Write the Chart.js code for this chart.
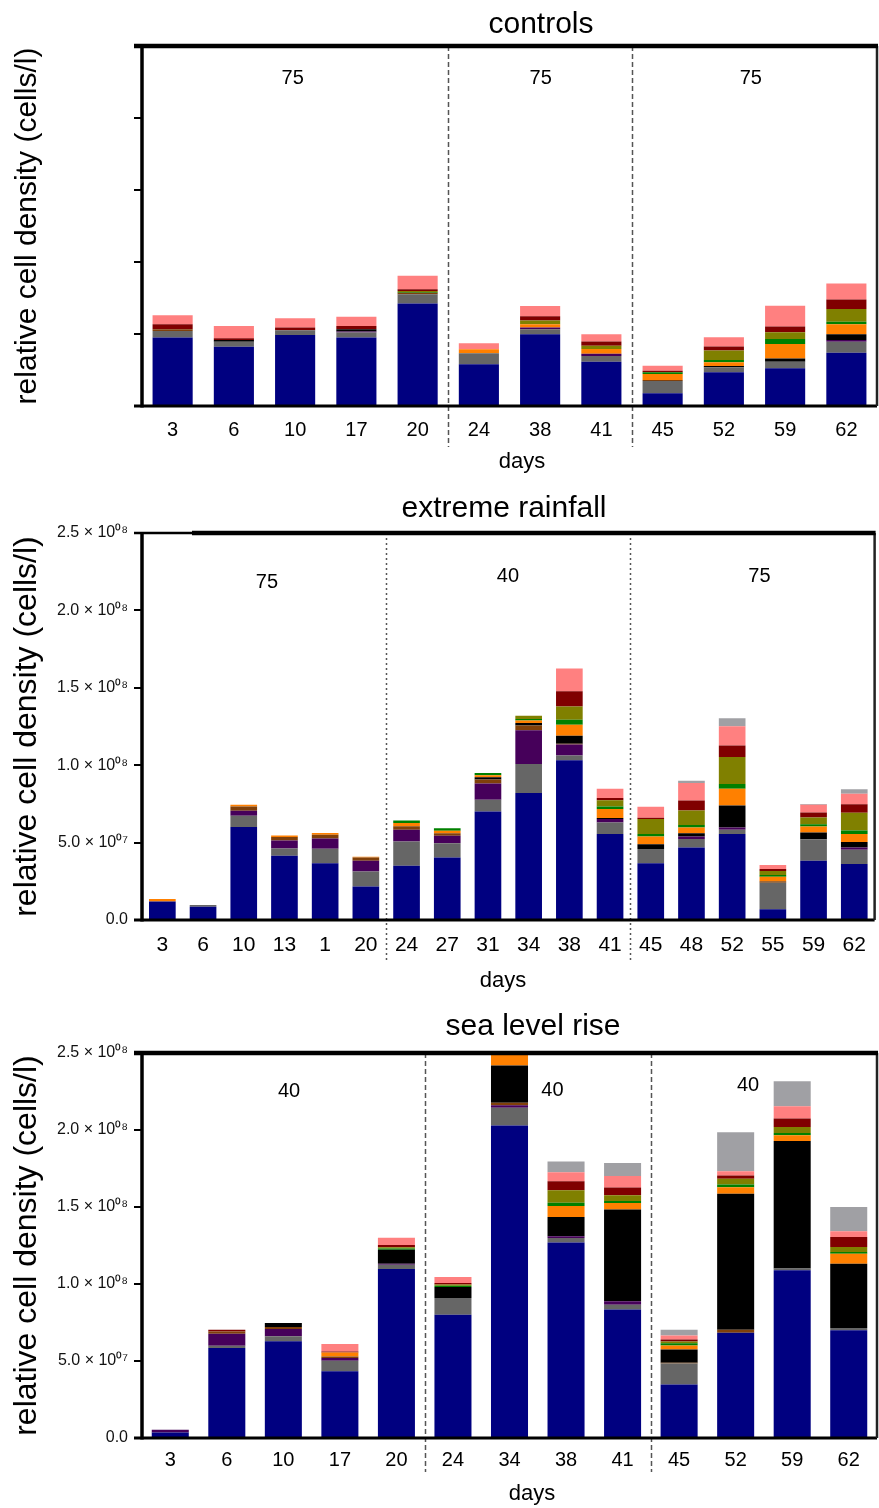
<!DOCTYPE html>
<html>
<head>
<meta charset="utf-8">
<script src="https://cdn.jsdelivr.net/npm/chart.js@4"></script>
<style>
    body { margin: 0; background: #fff; }
    canvas { display: block; }
</style>
</head>
<body>
<canvas id="graficoControles" width="879" height="480"></canvas>
<canvas id="graficoLluvia" width="879" height="520"></canvas>
<canvas id="graficoMar" width="879" height="508"></canvas>
<script>
// densities in units of 10^7 cells/l, stacked bottom -> top

// controls
const ctrlDays   = ['3', '6', '10', '17', '20', '24', '38', '41', '45', '52', '59', '62'];
const ctrlNavy   = [4.75, 4.12, 4.93, 4.75, 7.11, 2.90, 4.98, 3.08, 0.88, 2.34, 2.62, 3.70];
const ctrlGray   = [0.46, 0.35, 0.33, 0.35, 0.65, 0.76, 0.35, 0.40, 0.85, 0.35, 0.46, 0.76];
const ctrlPurple = [0, 0, 0, 0.07, 0, 0, 0.12, 0.14, 0, 0, 0, 0.12];
const ctrlBrown  = [0.12, 0, 0, 0, 0.10, 0, 0, 0, 0.07, 0, 0, 0];
const ctrlBlack  = [0, 0.12, 0, 0.16, 0, 0, 0, 0, 0, 0.09, 0.21, 0.40];
const ctrlOrange = [0, 0, 0, 0, 0, 0.28, 0.23, 0.33, 0.42, 0.26, 1.02, 0.69];
const ctrlGreen  = [0, 0, 0, 0, 0.05, 0, 0, 0, 0.12, 0.16, 0.35, 0.18];
const ctrlOlive  = [0, 0, 0, 0, 0.08, 0, 0.25, 0.23, 0, 0.65, 0.46, 0.88];
const ctrlRed    = [0.35, 0.12, 0.19, 0.23, 0.12, 0, 0.30, 0.30, 0.10, 0.28, 0.40, 0.67];
const ctrlPink   = [0.63, 0.85, 0.65, 0.63, 0.93, 0.42, 0.72, 0.51, 0.35, 0.65, 1.44, 1.11];
const ctrlSilver = [0, 0, 0, 0, 0, 0, 0, 0, 0, 0, 0, 0];
const ctrlZones  = ['75', '75', '75'];

// extreme rainfall
const rainDays   = ['3', '6', '10', '13', '1', '20', '24', '27', '31', '34', '38', '41', '45', '48', '52', '55', '59', '62'];
const rainNavy   = [1.19, 0.86, 6.00, 4.15, 3.67, 2.16, 3.50, 4.03, 7.01, 8.20, 10.32, 5.55, 3.67, 4.68, 5.55, 0.69, 3.82, 3.61];
const rainGray   = [0, 0.11, 0.73, 0.47, 0.93, 0.97, 1.57, 0.93, 0.76, 1.88, 0.30, 0.75, 0.91, 0.56, 0.28, 1.72, 1.40, 0.93];
const rainPurple = [0, 0, 0.32, 0.52, 0.67, 0.69, 0.76, 0.49, 1.04, 2.18, 0.71, 0.22, 0, 0.15, 0.15, 0, 0, 0.15];
const rainBrown  = [0, 0, 0.28, 0.22, 0.24, 0.21, 0.22, 0.15, 0.26, 0.30, 0.06, 0, 0, 0, 0, 0.09, 0, 0];
const rainBlack  = [0, 0, 0, 0, 0, 0, 0, 0, 0.15, 0.17, 0.52, 0.07, 0.32, 0.22, 1.42, 0, 0.43, 0.35];
const rainOrange = [0.17, 0, 0.11, 0.10, 0.11, 0.05, 0.22, 0.17, 0.13, 0.15, 0.71, 0.58, 0.49, 0.36, 1.08, 0.30, 0.39, 0.52];
const rainGreen  = [0, 0, 0, 0, 0, 0, 0.15, 0.15, 0.15, 0.11, 0.32, 0.17, 0.17, 0.17, 0.30, 0.11, 0.15, 0.22];
const rainOlive  = [0, 0, 0, 0, 0, 0, 0, 0, 0, 0.21, 0.86, 0.39, 0.97, 0.93, 1.75, 0.26, 0.43, 1.15];
const rainRed    = [0, 0, 0, 0, 0, 0, 0, 0, 0, 0, 0.97, 0.15, 0.08, 0.65, 0.75, 0.13, 0.32, 0.54];
const rainPink   = [0, 0, 0, 0, 0, 0, 0, 0, 0, 0, 1.47, 0.60, 0.71, 1.13, 1.23, 0.26, 0.50, 0.69];
const rainSilver = [0, 0, 0, 0, 0, 0, 0, 0, 0, 0, 0, 0, 0, 0.15, 0.52, 0, 0.06, 0.28];
const rainZones  = ['75', '40', '75'];

// sea level rise
const seaDays    = ['3', '6', '10', '17', '20', '24', '34', '38', '41', '45', '52', '59', '62'];
const seaNavy    = [0.36, 5.84, 6.28, 4.33, 10.97, 8.01, 20.30, 12.69, 8.34, 3.47, 6.84, 10.89, 6.99];
const seaGray    = [0, 0.15, 0.32, 0.69, 0.28, 1.08, 1.15, 0.30, 0.32, 1.36, 0, 0.11, 0.15];
const seaPurple  = [0.18, 0.78, 0.48, 0.17, 0.06, 0, 0.15, 0.11, 0.22, 0, 0, 0, 0];
const seaBrown   = [0, 0.15, 0.13, 0.10, 0, 0, 0.17, 0, 0, 0.06, 0.19, 0, 0];
const seaBlack   = [0, 0, 0.26, 0, 0.91, 0.71, 2.42, 1.25, 5.95, 0.86, 8.83, 8.29, 4.18];
const seaOrange  = [0, 0, 0, 0.26, 0, 0, 0.90, 0.71, 0.43, 0.26, 0.43, 0.37, 0.65];
const seaGreen   = [0, 0, 0, 0, 0.08, 0.08, 0, 0.22, 0.13, 0.15, 0.17, 0.15, 0.11];
const seaOlive   = [0, 0, 0, 0, 0.09, 0.09, 0, 0.80, 0.37, 0.11, 0.37, 0.39, 0.32];
const seaRed     = [0, 0.11, 0, 0.07, 0.15, 0.09, 0, 0.60, 0.50, 0.13, 0.21, 0.54, 0.65];
const seaPink    = [0, 0, 0, 0.48, 0.47, 0.39, 0, 0.58, 0.75, 0.26, 0.28, 0.80, 0.37];
const seaSilver  = [0, 0, 0, 0, 0, 0, 0, 0.69, 0.84, 0.37, 2.53, 1.62, 1.58];
const seaZones   = ['40', '40', '40'];

const FONT = '"Liberation Sans", Arial, Helvetica, sans-serif';
const colores = ['#000080', '#666666', '#46005A', '#80400A', '#000000', '#FF8000',
                 '#008000', '#808000', '#800000', '#FF8080', '#A0A0A4'];

function etiquetaY(v) {
    if (v === 0) return '0.0';
    if (v < 10) return v.toFixed(1) + ' \u00d7 10\u2070\u2077';
    return (v / 10).toFixed(1) + ' \u00d7 10\u2070\u2078';
}

// dashed separators, frame, zone numbers, titles
const marco = {
    id: 'marco',
    afterDraw(chart, args, o) {
        const { ctx, chartArea: a, scales: { x, y } } = chart;
        ctx.save();
        ctx.strokeStyle = '#555';
        ctx.lineWidth = 1.5;
        ctx.setLineDash(o.dash);
        o.breaks.forEach(b => {
            const px = Math.round(x.getPixelForValue(b)) + 0.5;
            ctx.beginPath();
            ctx.moveTo(px, a.top);
            ctx.lineTo(px, o.dashEnd);
            ctx.stroke();
        });
        ctx.setLineDash([]);

        ctx.strokeStyle = '#000';
        ctx.lineWidth = 3.5;
        ctx.beginPath(); ctx.moveTo(a.left, a.top); ctx.lineTo(a.left, a.bottom + 1.5); ctx.stroke();
        ctx.lineWidth = 3;
        ctx.beginPath(); ctx.moveTo(a.left - 8, a.bottom); ctx.lineTo(a.right, a.bottom); ctx.stroke();
        ctx.lineWidth = 2.5;
        ctx.strokeStyle = '#222';
        ctx.beginPath(); ctx.moveTo(a.right, a.top); ctx.lineTo(a.right, a.bottom); ctx.stroke();
        ctx.strokeStyle = '#000';
        if (o.thinTop > 0) {
            ctx.lineWidth = 2.5;
            ctx.beginPath(); ctx.moveTo(a.left - 8, a.top); ctx.lineTo(a.left + o.thinTop, a.top); ctx.stroke();
        }
        ctx.lineWidth = 4.5;
        ctx.beginPath(); ctx.moveTo(a.left - 8 + Math.max(o.thinTop + 8, 0), a.top); ctx.lineTo(a.right + 1, a.top); ctx.stroke();

        ctx.fillStyle = '#000';
        ctx.textAlign = 'center';
        ctx.textBaseline = 'middle';
        ctx.font = '20px ' + FONT;
        o.zones.forEach((t, i) => {
            ctx.fillText(t, x.getPixelForValue(o.zoneAt[i][0]), y.getPixelForValue(o.zoneAt[i][1]));
        });

        ctx.textBaseline = 'alphabetic';
        ctx.font = '30px ' + FONT;
        ctx.fillText(o.title, o.titleAt[0], o.titleAt[1]);
        ctx.font = '22px ' + FONT;
        ctx.fillText('days', o.daysAt[0], o.daysAt[1]);
        ctx.restore();
    }
};

function crearGrafico(id, p) {
    const datasets = p.series.map((valores, i) => ({
        data: valores,
        backgroundColor: colores[i],
        borderWidth: 0,
        barPercentage: 0.655,
        categoryPercentage: 1,
        clip: 0
    }));
    new Chart(document.getElementById(id), {
        type: 'bar',
        data: { labels: p.days, datasets: datasets },
        options: {
            responsive: false,
            animation: false,
            layout: { padding: { left: 0, right: 2, top: p.top, bottom: 0 } },
            plugins: {
                legend: { display: false },
                tooltip: { enabled: false },
                marco: p.marco
            },
            scales: {
                x: {
                    stacked: true,
                    grid: { display: false, drawTicks: false },
                    border: { display: false },
                    ticks: {
                        color: '#000', padding: p.xPad, maxRotation: 0, autoSkip: false,
                        font: { family: FONT, size: p.xFont }
                    },
                    afterFit: s => { s.height = p.xHeight; }
                },
                y: {
                    stacked: true,
                    min: 0,
                    max: 25,
                    ticks: {
                        stepSize: 5, padding: 6, color: '#111',
                        font: { family: FONT, size: 16 },
                        callback: v => p.yLabels ? etiquetaY(v) : ''
                    },
                    grid: { drawOnChartArea: false, tickLength: 8, color: '#000', lineWidth: 2 },
                    border: { display: false },
                    title: {
                        display: true,
                        text: 'relative cell density (cells/l)',
                        color: '#000',
                        font: { family: FONT, size: p.yTitleSize },
                        padding: { top: p.yTitlePad, bottom: 0 }
                    },
                    afterFit: s => { s.width = 142; }
                }
            }
        },
        plugins: [marco]
    });
}

document.addEventListener('DOMContentLoaded', function() {
    // Controls
    crearGrafico('graficoControles', {
        days: ctrlDays,
        series: [ctrlNavy, ctrlGray, ctrlPurple, ctrlBrown, ctrlBlack, ctrlOrange,
                 ctrlGreen, ctrlOlive, ctrlRed, ctrlPink, ctrlSilver],
        top: 46, xHeight: 74, xPad: 12, xFont: 20, yLabels: false, yTitleSize: 30, yTitlePad: 10,
        marco: {
            title: 'controls', titleAt: [541, 33], daysAt: [522, 468],
            breaks: [4.5, 7.5], dash: [5, 3], dashEnd: 447, thinTop: -8,
            zones: ctrlZones, zoneAt: [[1.96, 22.75], [6.01, 22.75], [9.44, 22.75]]
        }
    });

    // Extreme rainfall
    crearGrafico('graficoLluvia', {
        days: rainDays,
        series: [rainNavy, rainGray, rainPurple, rainBrown, rainBlack, rainOrange,
                 rainGreen, rainOlive, rainRed, rainPink, rainSilver],
        top: 53, xHeight: 80, xPad: 13, xFont: 21, yLabels: true, yTitleSize: 32, yTitlePad: 8,
        marco: {
            title: 'extreme rainfall', titleAt: [504, 37], daysAt: [503, 507],
            breaks: [5.5, 11.5], dash: [2, 3], dashEnd: 482, thinTop: 50,
            zones: rainZones, zoneAt: [[2.57, 21.78], [8.49, 22.2], [14.67, 22.2]]
        }
    });

    // Sea level rise
    crearGrafico('graficoMar', {
        days: seaDays,
        series: [seaNavy, seaGray, seaPurple, seaBrown, seaBlack, seaOrange,
                 seaGreen, seaOlive, seaRed, seaPink, seaSilver],
        top: 53, xHeight: 70, xPad: 10, xFont: 20, yLabels: true, yTitleSize: 32, yTitlePad: 8,
        marco: {
            title: 'sea level rise', titleAt: [533, 35], daysAt: [532, 500],
            breaks: [4.5, 8.5], dash: [5, 3], dashEnd: 472, thinTop: -8,
            zones: seaZones, zoneAt: [[2.10, 22.52], [6.76, 22.55], [10.22, 22.9]]
        }
    });
});
</script>
</body>
</html>
